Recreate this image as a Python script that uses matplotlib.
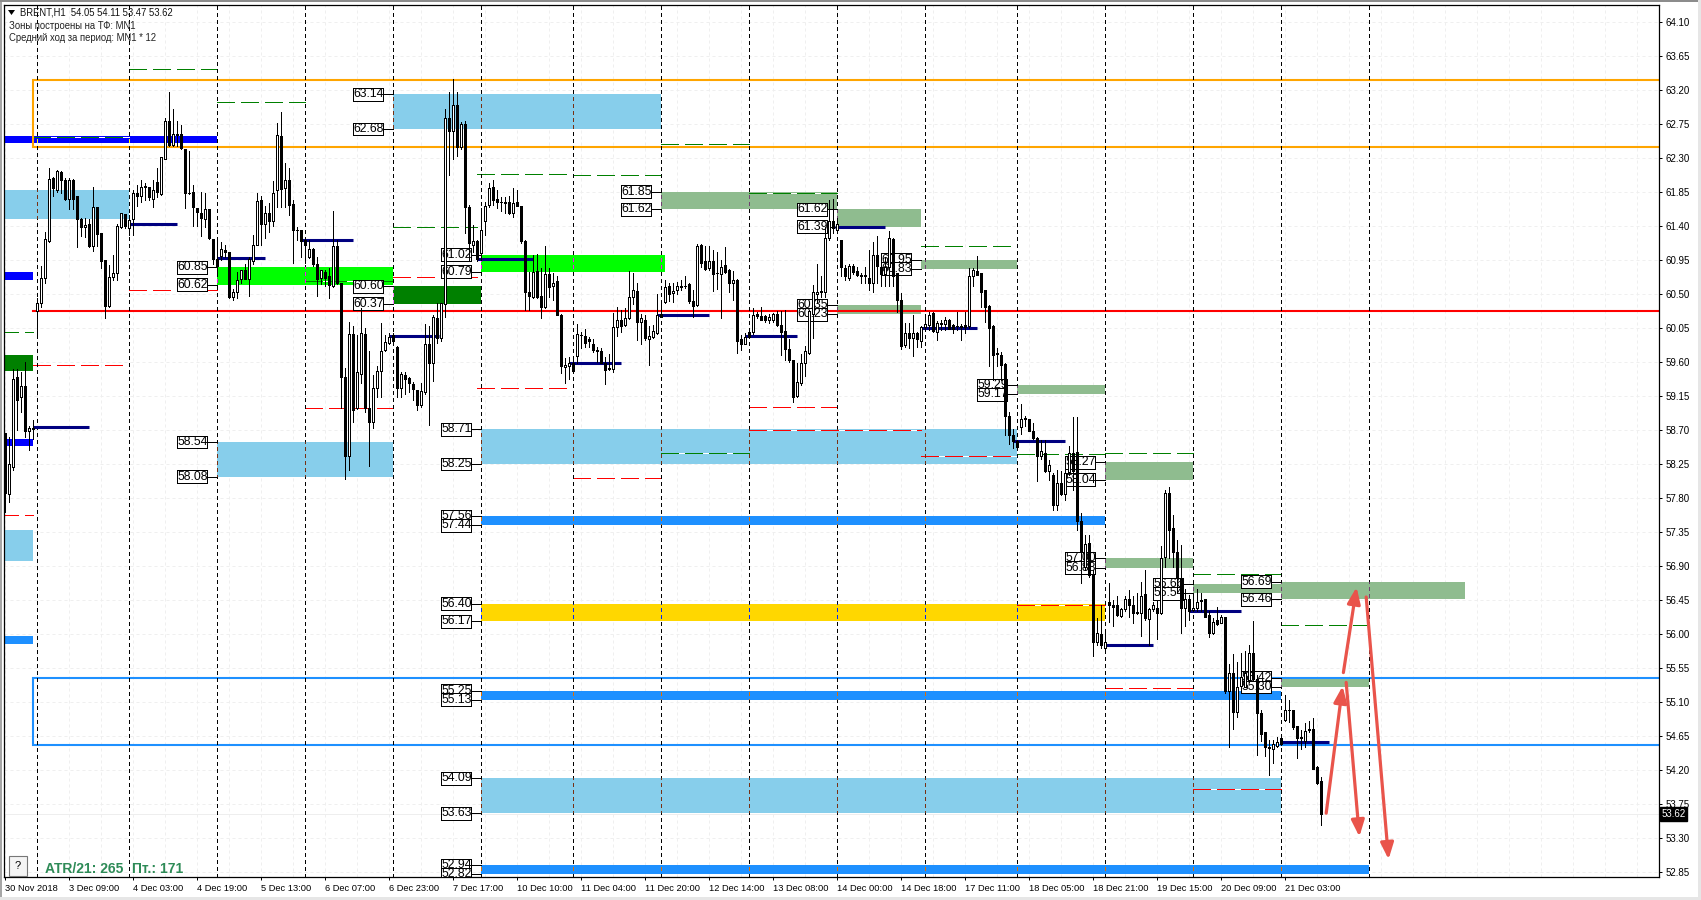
import matplotlib
matplotlib.use("Agg")
import matplotlib.pyplot as plt
from matplotlib.colors import to_rgb
from matplotlib.patches import Rectangle
from matplotlib.ticker import FixedLocator

plt.rcParams['font.family'] = ['Liberation Sans', 'DejaVu Sans']

# Свечи H1
opens = [
    58.66,57.85,58.21,59.40,59.13,59.28,58.68,58.71,60.27,60.38,
    60.71,61.20,62.03,61.87,62.11,62.01,61.76,62.00,61.80,61.49,
    61.38,61.42,61.13,61.65,61.30,60.95,60.34,60.72,60.78,61.38,
    61.56,61.37,61.49,61.84,61.79,61.93,61.91,61.76,61.98,61.82,
    62.29,62.78,62.47,62.62,62.62,62.42,61.84,61.85,61.63,61.57,
    61.49,61.62,61.23,60.96,61.00,61.08,61.06,60.46,60.52,60.69,
    60.82,60.70,60.94,61.15,61.74,61.42,61.57,61.46,61.87,62.59,
    61.90,62.01,61.69,61.35,61.34,61.21,60.99,61.09,60.90,60.71,
    60.79,60.74,60.60,61.13,60.65,59.40,58.36,59.97,58.99,59.44,
    59.97,58.99,58.81,59.26,59.48,59.76,59.85,59.96,59.80,59.26,
    59.43,59.39,59.31,59.23,59.03,59.20,59.83,59.59,60.18,59.91,
    60.37,62.82,62.66,63.00,62.44,62.75,61.65,61.15,61.20,61.04,
    61.46,61.67,61.91,61.76,61.72,61.71,61.71,61.57,61.71,61.66,
    61.20,60.52,60.46,60.80,60.47,60.32,60.76,60.60,60.67,60.22,
    59.53,59.54,59.59,59.68,59.95,59.94,59.90,59.84,59.76,59.74,
    59.58,59.52,59.51,60.06,60.16,60.09,60.18,60.46,60.54,60.13,
    60.16,59.90,59.93,59.98,60.24,60.39,60.60,60.51,60.55,60.60,
    60.61,60.63,60.41,60.35,61.15,60.94,60.84,60.94,60.78,60.76,
    60.88,60.82,60.65,60.68,59.90,59.84,59.99,59.99,60.23,60.21,
    60.21,60.15,60.15,60.24,60.09,60.01,59.77,59.63,59.15,59.32,
    59.58,59.72,60.24,60.50,60.53,60.53,61.24,61.46,61.35,61.21,
    60.84,60.71,60.87,60.80,60.75,60.74,60.71,60.64,61.01,60.85,
    60.76,60.86,61.23,60.77,60.42,59.82,59.98,59.92,59.98,59.88,
    60.06,60.09,60.25,60.00,60.11,60.10,60.16,60.09,60.08,60.07,
    60.09,60.07,60.74,60.80,60.77,60.55,60.34,60.07,59.72,59.69,
    59.57,58.88,58.63,58.55,58.74,58.86,58.85,58.69,58.59,58.35,
    58.40,58.15,58.10,57.71,58.00,57.85,58.14,58.40,58.41,57.49,
    56.89,57.20,56.78,55.89,56.00,55.81,56.42,56.39,56.38,56.24,
    56.33,56.46,56.39,56.29,56.28,56.53,56.20,56.33,56.35,56.28,
    57.02,57.86,57.40,57.09,56.74,56.34,56.47,56.32,56.35,56.45,
    56.46,56.25,56.01,56.19,56.15,56.22,55.24,55.49,54.97,55.31,
    55.30,55.39,55.75,55.40,54.96,54.70,54.50,54.48,54.52,54.62,
    54.86,55.00,54.99,54.78,54.64,54.59,54.73,54.74,54.24,54.05]
highs = [
    58.66,58.60,59.50,59.50,59.47,59.60,58.75,58.83,60.44,60.87,
    61.32,62.16,62.04,62.14,62.12,62.03,62.03,62.02,61.80,61.50,
    61.50,61.49,61.91,61.65,61.30,60.95,60.88,61.01,61.43,61.57,
    61.56,61.54,61.87,61.94,62.00,61.97,61.91,62.00,62.17,62.31,
    62.82,63.17,62.94,62.78,62.73,62.42,62.39,61.94,61.63,61.85,
    61.84,61.62,61.23,61.20,61.19,61.15,61.06,60.56,60.79,60.81,
    60.90,60.99,61.28,61.83,61.79,61.66,61.70,61.99,62.76,62.90,
    62.23,62.17,61.74,61.39,61.34,61.23,61.21,61.10,60.99,60.82,
    60.82,60.84,61.60,61.21,60.65,59.52,60.13,60.07,59.96,60.31,
    60.05,59.74,59.43,59.54,60.12,59.96,59.98,59.98,59.81,59.47,
    59.47,59.40,59.34,59.23,59.32,60.10,60.07,60.22,60.38,60.38,
    62.94,63.17,63.34,63.17,62.77,62.78,61.68,61.41,61.21,61.63,
    61.72,61.96,62.00,61.87,61.78,61.78,61.79,61.90,61.87,61.66,
    61.21,60.79,61.01,61.03,60.84,61.13,60.84,60.77,60.73,60.24,
    59.65,59.67,59.65,60.10,60.00,60.04,59.93,59.90,59.80,59.78,
    59.67,59.70,60.25,60.32,60.28,60.31,60.80,60.77,60.64,60.24,
    60.22,60.07,60.09,60.50,60.38,60.68,60.64,60.64,60.66,60.68,
    60.73,60.64,60.55,61.16,61.16,61.13,61.13,61.08,61.06,60.95,
    61.12,60.83,60.80,60.69,59.95,59.98,60.00,60.31,60.26,60.32,
    60.22,60.24,60.25,60.27,60.27,60.29,59.90,59.63,59.58,59.71,
    59.81,60.29,60.62,60.90,60.73,61.39,61.74,61.75,61.50,61.21,
    60.88,60.90,60.90,60.86,60.77,60.86,61.08,61.19,61.26,61.03,
    60.99,61.33,61.24,60.77,60.51,60.11,60.11,60.22,60.00,60.07,
    60.18,60.26,60.26,60.14,60.15,60.20,60.17,60.10,60.26,60.10,
    60.26,60.84,60.84,61.00,60.77,60.55,60.35,60.09,59.79,59.73,
    59.58,58.94,58.71,58.57,59.04,58.88,58.85,58.79,58.61,58.57,
    58.57,58.30,58.13,58.17,58.15,58.30,58.49,58.87,58.87,57.60,
    57.31,57.31,56.85,56.21,56.38,56.01,56.68,56.45,56.50,56.35,
    56.50,56.58,56.50,56.54,56.69,56.85,56.34,56.43,56.45,57.16,
    57.91,57.94,57.58,57.24,57.18,56.60,56.52,56.50,56.59,56.54,
    56.47,56.30,56.21,56.36,56.25,56.23,55.61,55.73,55.63,55.75,
    55.77,55.85,56.17,55.46,55.00,54.71,54.60,54.60,54.64,54.64,
    55.20,55.13,55.00,54.79,54.73,54.82,54.85,54.89,54.25,54.11]
lows = [
    57.61,57.75,58.17,58.70,58.94,58.61,58.44,58.58,59.93,60.33,
    60.64,61.19,61.79,61.85,61.84,61.74,61.62,61.62,61.12,61.27,
    61.25,61.12,61.07,61.13,60.84,60.18,60.33,60.68,60.68,61.37,
    61.37,61.28,61.28,61.66,61.71,61.74,61.74,61.65,61.78,61.81,
    62.28,62.45,62.45,62.45,62.42,61.63,61.82,61.40,61.40,61.26,
    61.39,61.22,60.90,60.73,60.95,60.99,60.44,60.42,60.44,60.64,
    60.70,60.47,60.90,61.15,61.15,61.24,61.32,61.40,61.65,61.65,
    61.65,61.54,60.91,61.21,60.99,60.91,60.98,60.87,60.47,60.63,
    60.60,60.45,60.59,60.63,58.99,58.05,58.17,58.81,58.98,59.32,
    58.94,58.22,58.72,59.14,59.14,59.75,59.84,59.86,59.14,59.14,
    59.18,59.20,59.10,58.96,59.00,59.18,58.77,59.35,59.85,59.87,
    60.20,62.07,62.29,62.32,62.42,61.31,60.95,61.06,60.93,60.95,
    61.28,61.65,61.68,61.64,61.60,61.57,61.55,61.51,61.66,61.17,
    60.28,60.28,60.44,60.44,60.18,60.31,60.46,60.42,60.22,59.45,
    59.32,59.38,59.47,59.58,59.78,59.80,59.80,59.73,59.60,59.58,
    59.31,59.49,59.47,59.94,60.00,60.08,60.17,60.37,59.89,59.83,
    59.89,59.56,59.92,59.97,60.19,60.38,60.40,60.39,60.50,60.55,
    60.58,60.38,60.20,60.34,60.86,60.82,60.82,60.54,60.57,60.18,
    60.77,60.53,60.42,59.72,59.76,59.83,59.92,59.97,60.18,60.15,
    60.13,60.11,60.13,60.08,59.69,59.63,59.60,59.07,59.14,59.30,
    59.41,59.71,59.91,60.38,60.46,60.46,61.21,61.30,61.33,60.73,
    60.68,60.68,60.76,60.73,60.64,60.64,60.55,60.53,60.64,60.60,
    60.60,60.60,60.60,60.26,59.77,59.80,59.78,59.68,59.80,59.80,
    60.02,60.02,60.00,59.89,60.02,60.02,60.03,59.98,60.02,59.89,
    59.98,60.05,60.60,60.75,60.33,60.13,59.54,59.36,59.54,59.36,
    58.63,58.51,58.46,58.45,58.65,58.75,58.68,58.58,58.02,58.32,
    58.14,58.04,57.64,57.64,57.84,57.77,58.10,57.90,57.37,56.68,
    56.85,56.76,55.71,55.85,55.81,55.75,56.16,56.10,56.24,56.23,
    56.30,56.23,56.15,56.27,55.97,56.19,55.85,56.30,55.94,56.26,
    56.89,57.00,56.89,56.54,56.01,56.10,56.19,56.30,56.30,56.30,
    56.23,55.96,56.00,56.12,56.14,55.22,54.51,54.75,54.90,55.28,
    55.30,55.37,55.39,54.40,54.58,54.39,54.14,54.29,54.50,54.53,
    54.85,54.84,54.75,54.36,54.48,54.51,54.71,54.21,54.01,53.47]
closes = [
    57.86,58.25,59.38,59.09,59.28,58.68,58.72,58.73,60.38,60.71,
    61.22,62.02,61.90,62.12,62.00,61.76,62.00,61.76,61.49,61.38,
    61.41,61.13,61.65,61.29,60.93,60.34,60.72,60.77,61.40,61.57,
    61.40,61.48,61.83,61.80,61.91,61.91,61.78,61.87,61.85,62.31,
    62.79,62.47,62.61,62.60,62.43,61.83,61.83,61.65,61.58,61.50,
    61.62,61.24,60.96,60.87,61.09,61.05,60.46,60.53,60.68,60.81,
    60.70,60.96,61.15,61.73,61.42,61.57,61.46,61.84,62.60,61.89,
    62.01,61.67,61.34,61.34,61.20,61.15,61.09,60.90,60.70,60.81,
    60.71,60.62,61.13,60.64,59.40,58.36,59.97,58.96,59.46,59.98,
    58.99,58.81,59.26,59.48,59.75,59.86,59.93,59.88,59.26,59.44,
    59.37,59.32,59.24,59.03,59.21,59.83,59.59,60.19,59.91,60.38,
    62.82,62.66,63.00,62.44,62.75,61.65,61.17,61.20,60.96,61.35,
    61.66,61.90,61.74,61.71,61.71,61.70,61.57,61.70,61.66,61.20,
    60.52,60.47,60.79,60.46,60.33,60.76,60.59,60.65,60.22,59.54,
    59.56,59.59,59.48,59.97,59.95,59.85,59.88,59.76,59.75,59.58,
    59.49,59.51,60.06,60.16,60.08,60.18,60.46,60.55,60.13,60.18,
    59.91,59.94,60.01,60.22,60.19,60.59,60.50,60.54,60.60,60.59,
    60.60,60.41,60.34,61.13,60.91,60.83,60.94,60.76,60.77,60.86,
    60.79,60.64,60.68,59.88,59.84,59.93,59.93,60.22,60.21,60.15,
    60.15,60.19,60.24,60.09,60.00,59.77,59.63,59.14,59.33,59.59,
    59.74,60.27,60.53,60.52,60.54,61.24,61.46,61.37,61.42,60.85,
    60.73,60.87,60.79,60.75,60.74,60.74,60.64,61.01,60.87,60.76,
    60.86,61.24,60.73,60.42,59.81,59.98,59.91,59.98,59.90,60.06,
    60.10,60.22,60.01,60.12,60.10,60.15,60.04,60.03,60.07,60.06,
    60.06,60.74,60.81,60.75,60.53,60.33,60.05,59.69,59.71,59.56,
    58.88,58.63,58.55,58.47,58.85,58.85,58.69,58.59,58.35,58.42,
    58.15,58.24,57.71,58.00,57.85,58.13,58.39,58.15,57.49,57.08,
    57.19,56.78,55.90,56.01,55.85,55.90,56.38,56.36,56.25,56.33,
    56.46,56.39,56.28,56.28,56.50,56.21,56.33,56.39,56.28,57.00,
    57.87,57.38,57.08,56.74,56.34,56.47,56.30,56.34,56.43,56.44,
    56.23,56.02,56.16,56.13,56.22,55.25,55.48,54.97,55.30,55.43,
    55.49,55.75,55.40,54.95,54.68,54.50,54.49,54.54,54.57,54.55,
    55.00,54.99,54.77,54.62,54.62,54.72,54.75,54.22,54.03,53.62]

# Подписи осей
price_ticks = ['64.10','63.65','63.20','62.75','62.30','61.85','61.40','60.95','60.50','60.05',
               '59.60','59.15','58.70','58.25','57.80','57.35','56.90','56.45','56.00','55.55',
               '55.10','54.65','54.20','53.75','53.30','52.85']
date_labels = ['30 Nov 2018','3 Dec 09:00','4 Dec 03:00','4 Dec 19:00','5 Dec 13:00','6 Dec 07:00',
               '6 Dec 23:00','7 Dec 17:00','10 Dec 10:00','11 Dec 04:00','11 Dec 20:00','12 Dec 14:00',
               '13 Dec 08:00','14 Dec 00:00','14 Dec 18:00','17 Dec 11:00','18 Dec 05:00','18 Dec 21:00',
               '19 Dec 15:00','20 Dec 09:00','21 Dec 03:00']
day_bars = [8,31,53,75,97,119,142,164,186,208,230,253,275,297,319,341]

# Зоны: начало, конец (бары), верх, низ
sky_zones = [(-1,31,61.88,61.49),(-1,7,57.38,56.97),(53,97,58.54,58.08),(97,164,63.14,62.68),
             (119,253,58.71,58.25),(119,319,54.09,53.63)]
blue_zones = [(-1,53,62.59,62.49),(-1,7,60.79,60.68),(-1,7,58.58,58.49)]
dodger_zones = [(-1,7,55.97,55.87),(119,275,57.56,57.44),(119,319,55.25,55.13),(119,341,52.94,52.82)]
green_zones = [(-1,7,59.69,59.48),(97,119,60.60,60.37)]
lime_zones = [(53,97,60.85,60.62),(119,165,61.02,60.79)]
gold_zones = [(119,275,56.40,56.17)]
sea_zones = [(164,208,61.85,61.62),(208,229,61.62,61.39),(208,229,60.35,60.23),(229,253,60.95,60.83),
             (253,275,59.29,59.17),(275,297,58.27,58.04),(275,297,57.00,56.88),(297,319,56.66,56.54),
             (319,365,56.69,56.46),(319,341,55.42,55.30)]

# Подписи зон: бар начала, верх, низ
label_zones = [(97,'63.14','62.68'),(53,'60.85','60.62'),(97,'60.60','60.37'),(53,'58.54','58.08'),
               (119,'61.02','60.79'),(119,'58.71','58.25'),(119,'57.56','57.44'),(119,'56.40','56.17'),
               (119,'55.25','55.13'),(119,'54.09','53.63'),(119,'52.94','52.82'),(164,'61.85','61.62'),
               (208,'61.62','61.39'),(208,'60.35','60.23'),(229,'60.95','60.83'),(253,'59.29','59.17'),
               (275,'58.27','58.04'),(275,'57.00','56.88'),(297,'56.66','56.54'),(319,'56.69','56.46'),
               (319,'55.42','55.30')]

# Пунктиры: начало, конец, цена
green_dash = [(31,53,63.47),(53,75,63.04),(97,118,61.38),(164,186,62.48),(118,141,62.08),(142,164,62.07),
              (208,230,62.44),(229,251.5,61.13),(253,275,58.38),(275,297,58.39),(297,319,56.80),
              (319,341,56.12),(-1,7,59.99)]
green_dash_gap = [(7,31,62.57),(75,97,60.67),(186,208,61.83),(164,186,58.40)]
red_dash = [(31,53,60.55),(97,118,60.72),(7,29.5,59.56),(-1,7,57.57),(75,97,58.99),(118,141,59.26),
            (186,208,59.00),(275,297,55.28),(142,164,58.06)]
red_dash_gap = [(53,75,60.27),(186,229,58.70),(229,253,58.36),(253,275,56.38),(297,319,53.95)]

# Уровни разворота (синие отрезки)
navy_levels = [(7,21,58.74),(31,43,61.42),(53,65,60.97),(74,87,61.21),(96,108.5,59.94),(118,132,60.96),
               (141,154,59.58),(163,176,60.22),(185,198,59.94),(207.5,220,61.38),(229,243,60.05),
               (252,265,58.55),(275,287,55.85),(296,309,56.31),(319,331,54.57)]

# Стрелки прогноза: от (бар, цена) к (бар, цена)
arrows = [((330.2,53.63),(334.3,55.31)),((334.5,55.49),(337.8,56.62)),
          ((335.2,55.36),(338.5,53.32)),((340.2,56.49),(345.8,53.02))]

sep_style = (0, (3, 3))


def fx(x): return x / 1701
def fy(y): return 1 - y / 900


fig = plt.figure(figsize=(17.01, 9), dpi=100, facecolor='white')
ax = fig.add_axes([fx(4), fy(877), fx(1659) - fx(4), fy(4.5) - fy(877)])
ax.set_xlim(-0.325, 413.4)
ax.set_ylim(52.786, 64.3275)

# Оформление осей
ax.yaxis.tick_right()
ax.set_yticks([float(p) for p in price_ticks])
ax.set_yticklabels(price_ticks, fontsize=7)
ax.tick_params(axis='y', length=2.5, width=0.72, pad=2)
ax.set_xticks([16 * k for k in range(len(date_labels))])
ax.set_xticklabels(date_labels, fontsize=6.7, ha='left')
ax.tick_params(axis='x', length=2.5, width=0.72, pad=2.5)
ax.xaxis.set_minor_locator(FixedLocator([8 * k for k in range(52)]))
ax.tick_params(axis='x', which='minor', length=0)
for side in ax.spines.values():
    side.set_linewidth(0.9)
ax.set_axisbelow(True)
ax.grid(True, which='both', axis='both', color='#EFEFEF', lw=0.72, linestyle=sep_style, zorder=0.5)
ax.axhline(53.62, color='#EEEEEE', lw=0.72, zorder=0.6)


def draw_zones(zones, color):
    for a, b, top, bottom in zones:
        patch = Rectangle((a, bottom), b - a, top - bottom, facecolor=color,
                          edgecolor='none', antialiased=False, zorder=1)
        ax.add_patch(patch)
        # разделитель дня поверх зоны рисуется инверсным цветом
        inverse = tuple(1 - c for c in to_rgb(color))
        for day in day_bars:
            if a <= day < b:
                mark = ax.axvline(day, color=inverse, lw=0.72, linestyle=sep_style, dash_capstyle='butt',
                                  antialiased=False, zorder=3.1)
                mark.set_clip_path(patch)


draw_zones(sky_zones, '#87CEEB')
draw_zones(blue_zones, '#0000FF')
draw_zones(dodger_zones, '#1E90FF')
draw_zones(green_zones, '#008000')
draw_zones(lime_zones, '#00FF00')
draw_zones(gold_zones, '#FFD700')
draw_zones(sea_zones, '#8FBC8F')


def draw_dash(lines, color, gap=None):
    for a, b, p in lines:
        ax.plot([a, b], [p, p], color=color, lw=0.72, linestyle=(0, (18, 6)), gapcolor=gap,
                dash_capstyle='butt', antialiased=False, zorder=2)


draw_dash(green_dash, '#008000')
draw_dash(green_dash_gap, '#008000', 'white')
draw_dash(red_dash, '#FF0000')
draw_dash(red_dash_gap, '#FF0000', 'white')

# Рамки зон и уровень
ax.plot([600, 7, 7, 600], [63.33, 63.33, 62.447, 62.447], color='#FFA500', lw=1.5, zorder=2.5,
        solid_joinstyle='miter', scalex=False, scaley=False)
ax.plot([600, 7, 7, 600], [55.42, 55.42, 54.53, 54.53], color='#1E90FF', lw=1.5, zorder=2.5,
        solid_joinstyle='miter', scalex=False, scaley=False)
ax.plot([7, 600], [60.27, 60.27], color='#FF0000', lw=1.5, zorder=2.4, scalex=False, scaley=False)

# Разделители дней
for b in day_bars:
    ax.axvline(b, color='black', lw=0.72, linestyle=sep_style, dash_capstyle='butt',
               antialiased=False, zorder=3)

# Подписи зон
for start, top, bottom in label_zones:
    for text in (top, bottom):
        p = float(text)
        ax.plot([start - 2.5, start], [p, p], color='black', lw=0.72, antialiased=False, zorder=3.4)
        ax.add_patch(Rectangle((start - 10, p - 0.085), 7.5, 0.17, facecolor='white', edgecolor='black',
                               lw=0.72, antialiased=False, zorder=3.5))
        ax.text(start - 6.25, p, text, fontsize=8.8, ha='center', va='center', color='black', zorder=3.6)

for a, b, p in navy_levels:
    ax.plot([a, b], [p, p], color='#000080', lw=2.2, solid_capstyle='butt', zorder=4)

# Свечи
bars = list(range(len(closes)))
ax.vlines(bars, lows, highs, color='black', lw=0.72, antialiased=False, zorder=5)
for i in bars:
    low_body = min(opens[i], closes[i])
    body = max(abs(closes[i] - opens[i]), 0.005)
    face = 'white' if closes[i] >= opens[i] else 'black'
    ax.bar(i, body, bottom=low_body, width=0.5, facecolor=face, edgecolor='black', lw=0.72,
           antialiased=False, zorder=5.1)

# Стрелки
for tail, tip in arrows:
    ax.annotate('', xy=tip, xytext=tail, zorder=6,
                arrowprops=dict(arrowstyle='-|>,head_width=0.28,head_length=0.7', mutation_scale=14,
                                lw=2.3, color='#E9544B', shrinkA=0, shrinkB=0))

# Текущая цена
ax.text((1661.5 - 4) / 1655, 53.62, '53.62', transform=ax.get_yaxis_transform(), fontsize=7,
        color='white', va='center', ha='left', clip_on=False, zorder=7,
        bbox=dict(facecolor='black', edgecolor='black', pad=1.2))

# Заголовок и надписи
fig.text(fx(20), fy(12.5), 'BRENT,H1  54.05 54.11 53.47 53.62', fontsize=6.85, va='center', color='#111111')
fig.text(fx(9), fy(26), 'Зоны построены на ТФ: MN1', fontsize=6.85, va='center', color='#222222')
fig.text(fx(9), fy(38), 'Средний ход за период: MN1 * 12', fontsize=6.85, va='center', color='#222222')
fig.add_artist(plt.Polygon([[fx(8), fy(10)], [fx(15), fy(10)], [fx(11.5), fy(15)]], closed=True,
                           facecolor='black', edgecolor='none', transform=fig.transFigure))
fig.text(fx(45), fy(869), 'ATR/21: 265', fontsize=10, fontweight='bold', va='center', color='#2E8B57')
fig.text(fx(132), fy(869), 'Пт.: 171', fontsize=10, fontweight='bold', va='center', color='#2E8B57')
fig.add_artist(Rectangle((fx(9), fy(876)), fx(18), fy(856) - fy(876), facecolor='#F4F4F4',
                         edgecolor='#777777', lw=0.8, transform=fig.transFigure))
fig.text(fx(18), fy(866), '?', fontsize=8, ha='center', va='center', color='black')

# Края окна
fig.add_artist(Rectangle((0, 0), fx(2), 1, facecolor='#A6A6A6', edgecolor='none', transform=fig.transFigure))
fig.add_artist(Rectangle((0, fy(1.5)), 1, fy(0) - fy(1.5), facecolor='#8C8C8C', edgecolor='none', transform=fig.transFigure))
fig.add_artist(Rectangle((0, 0), 1, fy(897), facecolor='#E6E6E6', edgecolor='none', transform=fig.transFigure))
fig.add_artist(Rectangle((fx(1698), 0), fx(3), 1, facecolor='#E6E6E6', edgecolor='none', transform=fig.transFigure))

fig.savefig('out.png', dpi=100)
